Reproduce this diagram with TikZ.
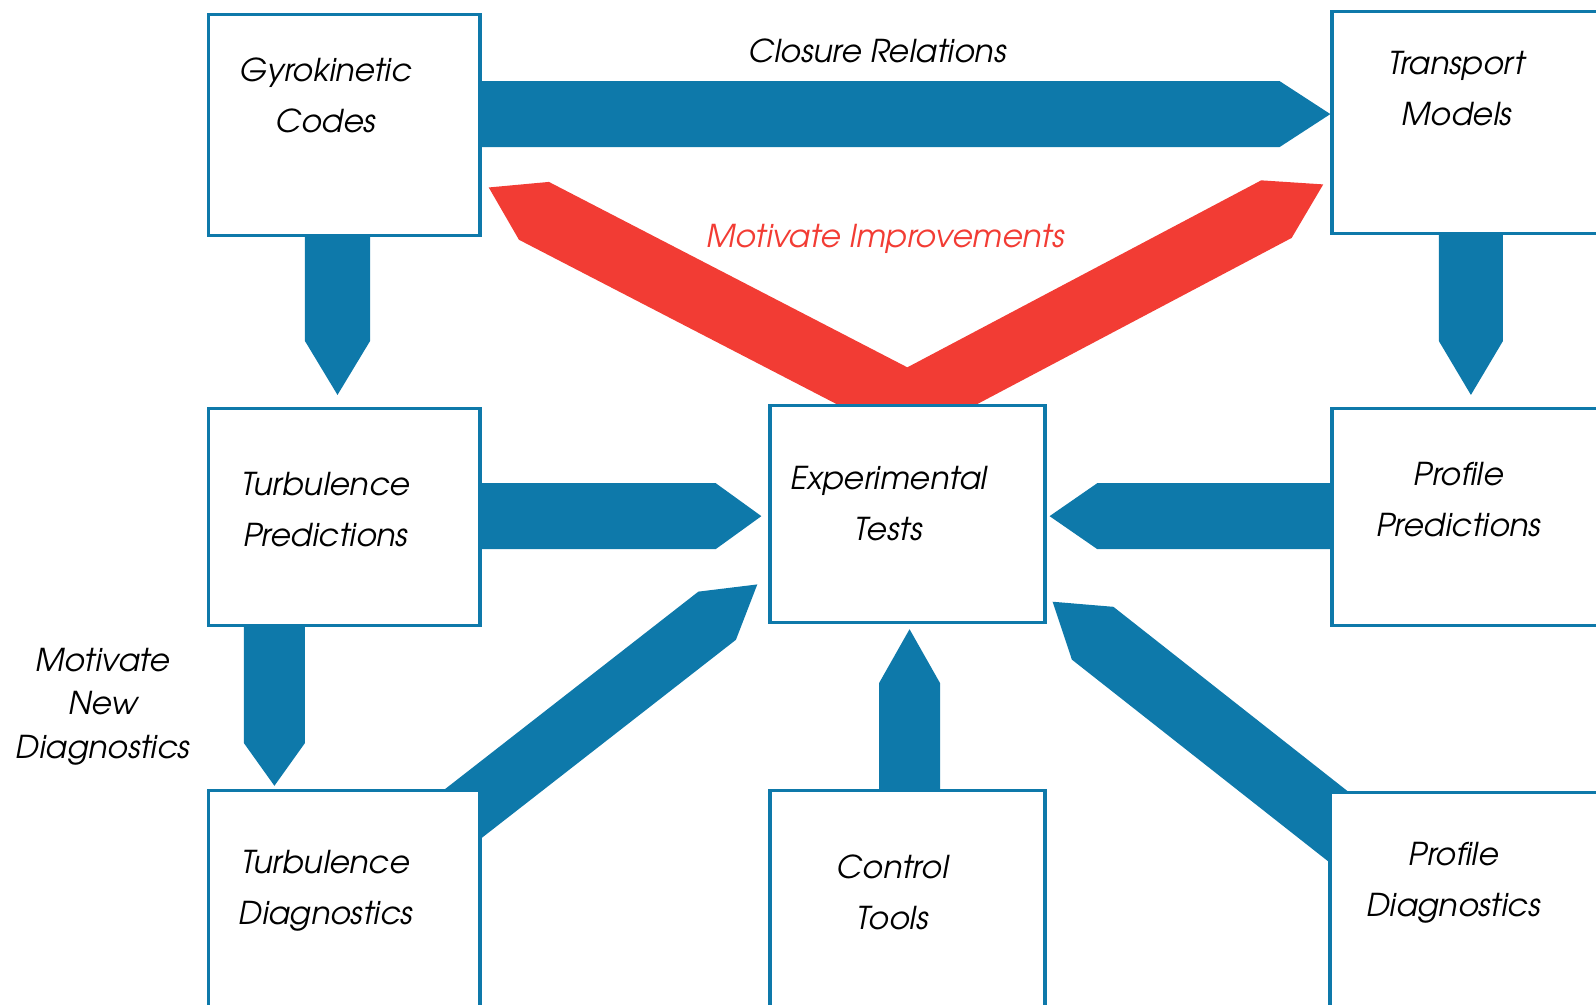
\documentclass[tikz,border=0pt]{standalone}
\usepackage{fontspec}
\setmainfont{TeX Gyre Adventor}
\usetikzlibrary{calc}
\usetikzlibrary{backgrounds}

\definecolor{flowblue}{RGB}{14,121,170}
\definecolor{flowred}{RGB}{242,60,52}

\tikzset{
  box/.style={rectangle,draw=flowblue,line width=0.9pt,fill=white,inner sep=0pt,anchor=north west},
  boxtext/.style={align=center,font=\fontsize{8.8}{14.2}\selectfont\itshape},
}

% Block arrow: [colour]{half width}{head length}{from}{tip}
\newcommand{\blockarrow}[5][flowblue]{%
  \path #4 coordinate (ba-s) #5 coordinate (ba-t);
  \coordinate (ba-h) at ($(ba-t)!#3!(ba-s)$);
  \fill[#1] ($(ba-s)!#2!90:(ba-t)$) -- ($(ba-h)!#2!-90:(ba-s)$) -- (ba-t)
    -- ($(ba-h)!#2!90:(ba-s)$) -- ($(ba-s)!#2!-90:(ba-t)$) -- cycle;
}

\begin{document}
\begin{tikzpicture}
  % Boundary
  \useasboundingbox (0,0) rectangle (15.68,-9.87);
  % Boxes
  \node[box,minimum width=2.67cm,minimum height=2.17cm] (gyro) at (2.03,-0.13) {};
  \node[box,minimum width=2.70cm,minimum height=2.18cm] (transport) at (13.07,-0.10) {};
  \node[box,minimum width=2.67cm,minimum height=2.13cm] (turbpred) at (2.03,-4.00) {};
  \node[box,minimum width=2.70cm,minimum height=2.13cm] (exper) at (7.55,-3.97) {};
  \node[box,minimum width=2.70cm,minimum height=2.13cm] (profpred) at (13.07,-4.00) {};
  \node[box,minimum width=2.67cm,minimum height=2.40cm] (turbdiag) at (2.03,-7.75) {};
  \node[box,minimum width=2.70cm,minimum height=2.40cm] (control) at (7.55,-7.75) {};
  \node[box,minimum width=2.70cm,minimum height=2.40cm] (profdiag) at (13.05,-7.77) {};
  % Box texts
  \node[boxtext] (gyro-text) at (3.20,-0.935) {Gyrokinetic\\Codes};
  \node[boxtext] (transport-text) at (14.31,-0.87) {Transport\\Models};
  \node[boxtext] (turbpred-text) at (3.20,-5.01) {Turbulence\\Predictions};
  \node[boxtext] (exper-text) at (8.73,-4.945) {Experimental\\Tests};
  \node[boxtext] (profpred-text) at (14.33,-4.905) {Profile\\Predictions};
  \node[boxtext] (turbdiag-text) at (3.20,-8.75) {Turbulence\\Diagnostics};
  \node[boxtext] (control-text) at (8.77,-8.77) {Control\\Tools};
  \node[boxtext] (profdiag-text) at (14.28,-8.675) {Profile\\Diagnostics};
  % Arrow labels
  \node[boxtext] (closure) at (8.62,-0.50) {Closure Relations};
  \node[boxtext,text=flowred] (improve) at (8.70,-2.35) {Motivate Improvements};
  \node[boxtext,font=\fontsize{8.8}{12.2}\selectfont\itshape] (newdiag) at (1.01,-6.94) {Motivate\\New\\Diagnostics};
  % Block arrows, behind the boxes
  \begin{scope}[on background layer]
    \blockarrow[flowred]{0.32cm}{0.50cm}{(exper.north)}{([xshift=0.07cm,yshift=0.49cm]gyro.south east)}
    \blockarrow[flowred]{0.32cm}{0.52cm}{(exper.north)}{([xshift=-0.07cm,yshift=0.50cm]transport.south west)}
    \blockarrow{0.325cm}{0.50cm}{([yshift=0.11cm]gyro.center)}{([yshift=0.085cm]transport.west)}
    \blockarrow{0.32cm}{0.53cm}{([xshift=-0.065cm]gyro.center)}{([xshift=-0.065cm,yshift=0.12cm]turbpred.north)}
    \blockarrow{0.315cm}{0.53cm}{([xshift=0.015cm]transport.center)}{([xshift=0.015cm,yshift=0.12cm]profpred.north)}
    \blockarrow{0.325cm}{0.45cm}{([yshift=0.01cm]turbpred.center)}{([xshift=-0.07cm,yshift=-0.02cm]exper.west)}
    \blockarrow{0.325cm}{0.47cm}{([yshift=0.01cm]profpred.center)}{([xshift=0.03cm,yshift=-0.02cm]exper.east)}
    \blockarrow{0.30cm}{0.42cm}{([xshift=-0.685cm]turbpred.center)}{([xshift=-0.685cm,yshift=0.03cm]turbdiag.north)}
    \blockarrow{0.30cm}{0.53cm}{([xshift=0.02cm]control.center)}{([xshift=0.02cm,yshift=-0.05cm]exper.south)}
    \blockarrow{0.30cm}{0.50cm}{([xshift=-0.42cm,yshift=-0.43cm]turbdiag.north east)}{([xshift=-0.11cm,yshift=0.39cm]exper.south west)}
    \blockarrow{0.33cm}{0.50cm}{([xshift=0.58cm,yshift=-0.73cm]profdiag.north west)}{([xshift=0.06cm,yshift=0.22cm]exper.south east)}
  \end{scope}
\end{tikzpicture}
\end{document}
